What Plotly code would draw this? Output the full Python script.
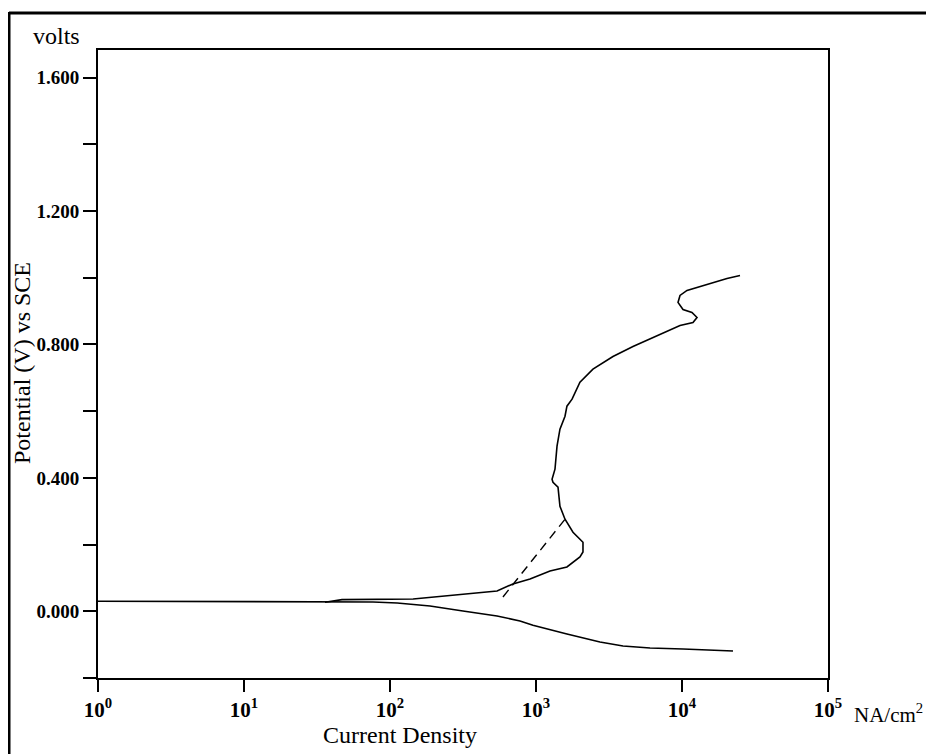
import plotly.graph_objects as go

# Cathodic branch (current density nA/cm^2, potential V vs SCE)
cath_current = [1, 5.0, 34.8, 76.5, 112, 188, 316, 541, 777, 953, 1629, 2742, 3944, 6039, 10170, 16300, 22350]
cath_potential = [0.030, 0.029, 0.029, 0.028, 0.025, 0.016, 0.001, -0.014, -0.029, -0.042, -0.068,
                  -0.092, -0.104, -0.110, -0.113, -0.116, -0.119]

# Anodic branch
an_current = [35.9, 46.9, 144, 245, 413, 541, 695, 910, 1247, 1629, 2000, 2098, 2098, 1792, 1580,
              1459, 1415, 1307, 1288, 1349, 1393, 1459, 1580, 1629, 1766, 2000, 2455, 3366, 4615,
              6327, 7888, 9690, 11890, 12670, 11700, 10160, 9390, 9690, 10820, 13280, 16300, 20330, 24960]
an_potential = [0.027, 0.035, 0.037, 0.046, 0.055, 0.061, 0.082, 0.097, 0.121, 0.133, 0.163, 0.178,
                0.207, 0.237, 0.276, 0.315, 0.372, 0.387, 0.396, 0.426, 0.495, 0.546, 0.585, 0.615,
                0.636, 0.687, 0.726, 0.764, 0.794, 0.821, 0.839, 0.857, 0.866, 0.881, 0.896, 0.905,
                0.926, 0.947, 0.962, 0.974, 0.986, 0.998, 1.007]

# Tafel extrapolation (dashed)
tafel_current = [594, 1580]
tafel_potential = [0.043, 0.276]

x_tickvals = [1, 10, 100, 1000, 10000, 100000]
x_ticktext = ["10<sup>0</sup>", "10<sup>1</sup>", "10<sup>2</sup>", "10<sup>3</sup>",
              "10<sup>4</sup>", "10<sup>5</sup>"]
y_major_step = 0.4
y_minor_step = 0.2

# Page has an 8px body margin: figure pixel = reference pixel - 8
OFF = 8
W, H = 934 - OFF, 754 - OFF
L, R, T, B = 98, 828, 50, 678   # plot area in reference pixels

def px(x):
    return (x - L) / (R - L)

def py(y):
    return (B - y) / (B - T)

fig = go.Figure()
fig.add_trace(go.Scatter(x=cath_current, y=cath_potential, mode="lines",
                         line=dict(color="black", width=1.6), showlegend=False))
fig.add_trace(go.Scatter(x=an_current, y=an_potential, mode="lines",
                         line=dict(color="black", width=1.6), showlegend=False))
fig.add_trace(go.Scatter(x=tafel_current, y=tafel_potential, mode="lines",
                         line=dict(color="black", width=1.4, dash="9px,6px"), showlegend=False))

serif = "Liberation Serif, Times New Roman, serif"

fig.update_layout(
    width=W, height=H,
    margin=dict(l=L - OFF, r=W - (R - OFF), t=T - OFF, b=H - (B - OFF), pad=0),
    paper_bgcolor="white", plot_bgcolor="white",
    font=dict(family=serif, color="black"),
    xaxis=dict(type="log", range=[0, 5], tickvals=x_tickvals, ticktext=x_ticktext,
               ticks="outside", ticklen=12, tickwidth=1.5, tickcolor="black",
               showline=True, linecolor="black", linewidth=2, mirror=True,
               showgrid=False, zeroline=False,
               tickfont=dict(family=serif, size=21, color="black", weight="bold")),
    yaxis=dict(range=[-0.2, 1.683], tick0=0, dtick=y_major_step, tickformat=".3f",
               ticks="outside", ticklen=13, tickwidth=1.5, tickcolor="black",
               minor=dict(tick0=0, dtick=y_minor_step, ticks="outside", ticklen=13,
                          tickwidth=1.5, tickcolor="black", showgrid=False),
               showline=True, linecolor="black", linewidth=2, mirror=True,
               showgrid=False, zeroline=False,
               tickfont=dict(family=serif, size=19, color="black", weight="bold")),
    annotations=[
        dict(text="volts", x=px(56), y=py(36), xref="paper", yref="paper",
             showarrow=False, xanchor="center", yanchor="middle",
             font=dict(family=serif, size=24, color="black")),
        dict(text="Potential (V) vs SCE", x=px(22), y=py(363), xref="paper", yref="paper",
             showarrow=False, xanchor="center", yanchor="middle", textangle=-90,
             font=dict(family=serif, size=24, color="black")),
        dict(text="Current Density", x=px(400), y=py(735), xref="paper", yref="paper",
             showarrow=False, xanchor="center", yanchor="middle",
             font=dict(family=serif, size=24, color="black")),
        dict(text="NA/cm<sup>2</sup>", x=px(852), y=py(713), xref="paper", yref="paper",
             showarrow=False, xanchor="left", yanchor="middle",
             font=dict(family=serif, size=21, color="black")),
    ],
    shapes=[
        dict(type="line", xref="paper", yref="paper", x0=px(9), x1=px(945), y0=py(13), y1=py(13),
             line=dict(color="black", width=3)),
        dict(type="line", xref="paper", yref="paper", x0=px(9), x1=px(9), y0=py(12), y1=py(770),
             line=dict(color="black", width=3)),
    ],
)

fig.write_html("out.html")
